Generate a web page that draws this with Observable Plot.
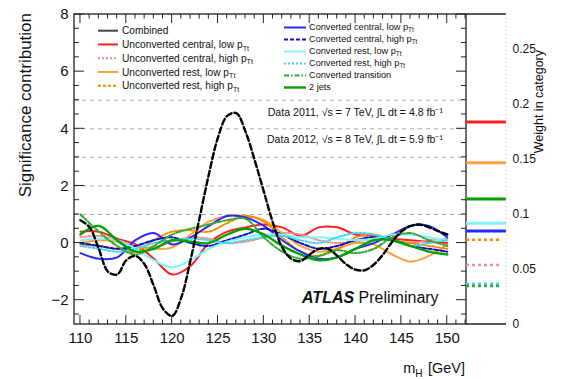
<!DOCTYPE html>
<html><head><meta charset="utf-8">
<script src="https://cdn.jsdelivr.net/npm/d3@7"></script>
<script src="https://cdn.jsdelivr.net/npm/@observablehq/plot@0.6"></script>
<style>
body{margin:0;background:#fff}
#wrap{position:relative;width:563px;height:379px;font-family:"Liberation Sans",Arial,Helvetica,sans-serif}
#wrap svg{position:absolute;left:0;top:0}
</style></head><body><div id="wrap"></div>
<script>
// ---------- data ----------
const massesFine = [110,111,112,113,114,115,116,117,118,119,120,121,122,123,124,125,126,127,128,129,130,131,132,133,134,135,136,137,138,139,140,141,142,143,144,145,146,147,148,149,150];
const combined   = [0.8,0.55,-0.2,-1.0,-1.1,-0.6,-0.45,-0.75,-1.5,-2.3,-2.55,-1.9,-0.6,0.9,2.4,3.7,4.45,4.55,3.9,2.9,1.8,0.7,-0.15,-0.55,-0.63,-0.4,-0.2,-0.2,-0.45,-0.75,-0.93,-0.95,-0.75,-0.4,0.05,0.4,0.6,0.65,0.55,0.42,0.3];

const masses       = [110,112,114,116,118,120,122,124,126,128,130,132,134,136,138,140,142,144,146,148,150];
const ucCentralLow  = [0.4,0.4,0.15,-0.05,-0.55,-1.1,-0.8,0.0,0.4,0.55,0.65,0.55,0.25,0.55,0.55,0.3,0.25,0.15,0.1,0.05,0.0];
const ucCentralHigh = [0.2,0.25,0.1,-0.1,-0.15,0.05,0.2,0.15,0.0,0.05,0.2,0.35,0.3,0.1,0.0,0.05,0.15,0.1,0.0,0.1,0.15];
const ucRestLow     = [0.0,0.1,0.05,-0.1,-0.2,-0.15,0.3,0.75,0.95,0.95,0.8,0.35,-0.1,-0.3,-0.2,0.0,-0.05,-0.4,-0.65,-0.45,-0.05];
const ucRestHigh    = [-0.05,-0.1,-0.2,-0.3,0.1,0.4,0.45,0.4,0.7,0.95,0.75,0.2,-0.3,-0.45,-0.2,0.2,0.3,0.1,0.0,-0.1,-0.2];
const cvCentralLow  = [-0.35,-0.55,-0.5,0.1,0.35,-0.05,0.2,0.6,0.95,0.9,0.6,0.1,-0.3,-0.55,-0.5,-0.2,0.0,0.3,0.6,0.6,0.2];
const cvCentralHigh = [0.0,-0.1,-0.2,-0.1,0.1,0.2,0.0,-0.1,0.1,0.3,0.5,0.3,0.0,-0.2,-0.1,0.1,0.2,0.1,-0.1,-0.2,-0.3];
const cvRestLow     = [0.1,0.15,0.1,-0.2,-0.6,-0.85,-0.6,-0.2,0.05,0.2,0.3,0.3,0.2,0.2,0.15,0.1,0.15,0.3,0.3,0.2,0.1];
const cvRestHigh    = [-0.1,-0.2,-0.3,-0.2,0.0,0.1,0.15,0.1,0.0,0.1,0.2,0.25,0.1,0.0,0.2,0.35,0.3,0.1,-0.1,0.0,0.1];
const cvTransition  = [1.0,0.4,-0.1,-0.4,-0.1,0.3,0.5,0.65,0.8,0.85,0.2,-0.3,-0.55,-0.45,-0.25,-0.35,-0.2,0.2,0.35,0.1,-0.1];
const twoJets       = [0.3,0.6,0.1,-0.3,-0.2,0.1,0.05,0.0,0.3,0.5,0.3,-0.1,-0.4,-0.6,-0.5,-0.2,0.1,0.1,-0.1,-0.3,-0.4];

const categoryNames = ["Unconverted central, low p_Tt","Unconverted central, high p_Tt","Unconverted rest, low p_Tt","Unconverted rest, high p_Tt",
  "Converted central, low p_Tt","Converted central, high p_Tt","Converted rest, low p_Tt","Converted rest, high p_Tt","Converted transition","2 jets"];
const categorySeries = [ucCentralLow,ucCentralHigh,ucRestLow,ucRestHigh,cvCentralLow,cvCentralHigh,cvRestLow,cvRestHigh,cvTransition,twoJets];
const categoryWeights = [0.184,0.054,0.147,0.077,0.085,0.036,0.092,0.037,0.035,0.114];

const xTickLabels = [110,115,120,125,130,135,140,145,150];
const yTickLabels = [-2,0,2,4,6,8];
const sigmaLevels = [1,2,3,4,5];
const weightTicks = [0,0.05,0.1,0.15,0.2,0.25];

// ---------- styles ----------
const catStyle = [
  {stroke:"#ff2020", width:2,   dash:null},
  {stroke:"#ff8a8a", width:2,   dash:"2,2"},
  {stroke:"#ffa040", width:2,   dash:null},
  {stroke:"#ff8800", width:2,   dash:"3,2"},
  {stroke:"#2828ff", width:2,   dash:null},
  {stroke:"#1010c8", width:2,   dash:"4,2"},
  {stroke:"#80f4ff", width:2,   dash:null},
  {stroke:"#40d8f0", width:2,   dash:"2,2"},
  {stroke:"#30a830", width:2,   dash:"5,2,1.5,2"},
  {stroke:"#00a000", width:2.4, dash:null}
];
const FONT = '"Liberation Sans",Arial,Helvetica,sans-serif';
const W = 563, H = 379;
const frameL = 74, frameR = 466, sideR = 506, frameT = 14, frameB = 324;

function richText(g, x, y, str, size, anchor, extra) {
  const t = g.append("text").attr("x", x).attr("y", y).attr("font-size", size)
    .attr("text-anchor", anchor || "start").attr("dy", "0.35em").attr("fill", "#111").attr("stroke", "none");
  if (extra) extra(t);
  const parts = str.split(/_(\w+)/);
  parts.forEach((p, i) => {
    if (!p) return;
    if (i % 2 === 1) {
      t.append("tspan").attr("font-size", size * 0.7).attr("dy", size * 0.25).text(p);
      t.append("tspan").attr("dy", -size * 0.25).text("\u200a");
    } else t.append("tspan").text(p);
  });
  return t;
}

// ---------- main panel ----------
const lineMarks = categorySeries.map((vals, i) =>
  Plot.line(masses.map((m, j) => ({m, v: vals[j]})), {
    x: "m", y: "v", curve: "catmull-rom", stroke: catStyle[i].stroke,
    strokeWidth: catStyle[i].width, strokeDasharray: catStyle[i].dash
  }));

const mainFrame = (index, {x, y}, values, dim) => {
  const g = d3.create("svg:g").attr("fill", "none").attr("stroke", "#222");
  const L = dim.marginLeft, R = dim.width - dim.marginRight, T = dim.marginTop, B = dim.height - dim.marginBottom;
  g.append("rect").attr("x", L).attr("y", T).attr("width", R - L).attr("height", B - T).attr("stroke-width", 1.3);
  for (const t of d3.range(110, 153, 1)) {
    const px = x(t); if (px > R) continue;
    const len = t % 5 === 0 ? 9 : 4.5;
    g.append("line").attr("x1", px).attr("x2", px).attr("y1", B).attr("y2", B - len);
    g.append("line").attr("x1", px).attr("x2", px).attr("y1", T).attr("y2", T + len);
  }
  for (const t of d3.range(-2.5, 8.01, 0.5)) {
    const py = y(t); if (py > B) continue;
    const len = Math.abs(t % 2) < 1e-9 ? 10 : 5;
    g.append("line").attr("y1", py).attr("y2", py).attr("x1", L).attr("x2", L + len);
    g.append("line").attr("y1", py).attr("y2", py).attr("x1", R).attr("x2", R - len);
  }
  return g.node();
};

const legendLeft = [{label: "Combined", stroke: "#444", width: 2, dash: null}]
  .concat([0,1,2,3].map(i => ({label: categoryNames[i], ...catStyle[i]})));
const legendRight = [4,5,6,7,8,9].map(i => ({label: categoryNames[i], ...catStyle[i]}));

const textMark = () => {
  const g = d3.create("svg:g").attr("font-family", FONT);
  legendLeft.forEach((e, i) => {
    const yy = 30.7 + i * 13.75;
    g.append("line").attr("x1", 98).attr("x2", 118).attr("y1", yy).attr("y2", yy)
      .attr("stroke", e.stroke).attr("stroke-width", e.width).attr("stroke-dasharray", e.dash);
    richText(g, 122, yy, e.label, 10.2, "start");
  });
  legendRight.forEach((e, i) => {
    const yy = 27.5 + i * 12;
    g.append("line").attr("x1", 284).attr("x2", 306).attr("y1", yy).attr("y2", yy)
      .attr("stroke", e.stroke).attr("stroke-width", e.width).attr("stroke-dasharray", e.dash);
    richText(g, 309, yy - 1, e.label, 9.2, "start");
  });
  richText(g, 443, 112, "Data 2011, \u221As = 7 TeV, \u222BL dt = 4.8 fb\u207B\u00B9", 10.6, "end");
  richText(g, 443, 139, "Data 2012, \u221As = 8 TeV, \u222BL dt = 5.9 fb\u207B\u00B9", 10.6, "end");
  const at = g.append("text").attr("x", 302).attr("y", 297).attr("dy", "0.35em").attr("font-size", 16)
    .attr("text-anchor", "start").attr("fill", "#111");
  at.append("tspan").attr("font-weight", "bold").attr("font-style", "italic").text("ATLAS");
  at.append("tspan").text(" Preliminary");
  richText(g, 465, 368, "m_H [GeV]", 14.5, "end");
  richText(g, 0, 0, "Significance contribution", 17, "end", t => t.attr("transform", "translate(25,13) rotate(-90)"));
  return g.node();
};

const main = Plot.plot({
  width: W, height: H,
  marginLeft: frameL, marginRight: W - frameR, marginTop: frameT, marginBottom: H - frameB,
  x: {domain: [109.35, 152.1]},
  y: {domain: [-2.85, 8]},
  style: {fontFamily: FONT, background: "white", color: "#111"},
  marks: [
    Plot.ruleY(sigmaLevels, {stroke: "#aaa", strokeWidth: 1, strokeDasharray: "4,4"}),
    ...lineMarks,
    Plot.line(massesFine.map((m, j) => ({m, v: combined[j]})), {x: "m", y: "v", curve: "catmull-rom", stroke: "#000", strokeWidth: 2.4, strokeDasharray: "6,3"}),
    Plot.axisX({ticks: xTickLabels, tickSize: 0, tickPadding: 8, fontSize: 15, label: null}),
    Plot.axisY({ticks: yTickLabels, tickSize: 0, tickPadding: 6, fontSize: 15, label: null}),
    mainFrame,
    textMark
  ]
});

// ---------- weight panel ----------
const sideFrame = (index, {x, y}, values, dim) => {
  const g = d3.create("svg:g").attr("fill", "none").attr("stroke", "#222").attr("font-family", FONT);
  const L = dim.marginLeft, R = dim.width - dim.marginRight, T = dim.marginTop, B = dim.height - dim.marginBottom;
  g.append("line").attr("x1", L).attr("x2", R).attr("y1", T).attr("y2", T).attr("stroke-width", 1.3);
  g.append("line").attr("x1", L).attr("x2", R).attr("y1", B).attr("y2", B).attr("stroke-width", 1.3);
  g.append("line").attr("x1", R).attr("x2", R).attr("y1", T).attr("y2", B).attr("stroke", "#bbb").attr("stroke-dasharray", "1,3");
  richText(g, 0, 0, "Weight in category", 12.5, "end", t => t.attr("transform", "translate(539,50) rotate(-90)"));
  return g.node();
};

const weightMarks = categoryWeights.map((w, i) =>
  Plot.ruleY([w], {x1: 0, x2: catStyle[i].dash ? 0.88 : 1, stroke: catStyle[i].stroke,
    strokeWidth: catStyle[i].dash ? 2.5 : 3, strokeDasharray: catStyle[i].dash ? "3,3" : null}));

const side = Plot.plot({
  width: W, height: H,
  marginLeft: frameR, marginRight: W - sideR, marginTop: frameT, marginBottom: H - frameB,
  x: {domain: [0, 1], axis: null},
  y: {domain: [0, (frameB - frameT) / 1100]},
  style: {fontFamily: FONT, background: "transparent", color: "#111"},
  marks: [
    ...weightMarks,
    Plot.axisY({anchor: "right", ticks: weightTicks, tickSize: 0, tickPadding: 6, fontSize: 12, label: null,
      tickFormat: d => d === 0 ? "0" : String(d)}),
    sideFrame
  ]
});

const wrap = document.getElementById("wrap");
wrap.appendChild(main);
wrap.appendChild(side);
</script></body></html>
